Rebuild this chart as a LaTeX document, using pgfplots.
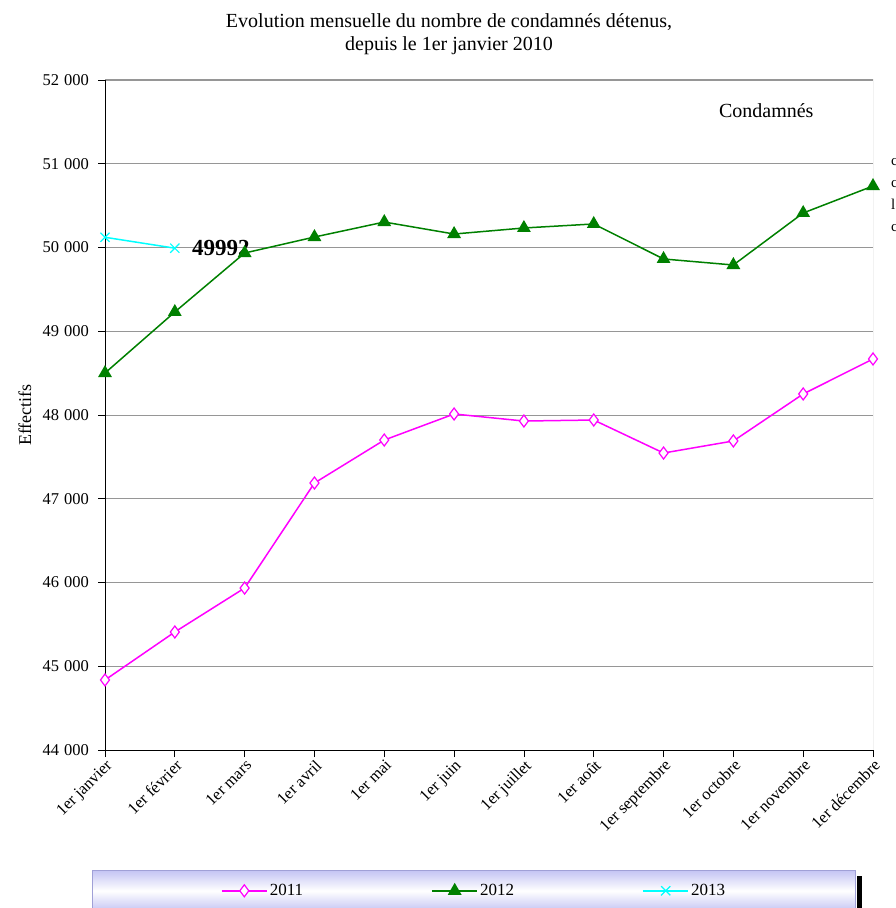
\documentclass[border=0pt]{standalone}
\usepackage{fontspec}
\setmainfont{Liberation Serif}
\usepackage{pgfplots}
\pgfplotsset{compat=1.18}
\definecolor{lav}{RGB}{196,196,244}
\definecolor{lavline}{RGB}{160,160,215}
\definecolor{dgreen}{RGB}{0,128,0}
\definecolor{mag}{RGB}{255,0,255}
\definecolor{cy}{RGB}{0,255,255}
\definecolor{gridgray}{RGB}{150,150,150}
\begin{document}
\begin{tikzpicture}
\useasboundingbox (0,0) rectangle (895pt,908pt);
\clip (0,0) rectangle (895pt,908pt);
\node[align=center, font=\fontsize{20}{23}\selectfont] at (449pt,874pt) {Evolution mensuelle du nombre de condamnés détenus,\\depuis le 1er janvier 2010};
\node[rotate=90, font=\fontsize{18}{20}\selectfont] at (25pt,493pt) {Effectifs};
\begin{axis}[
  scale only axis, width=768pt, height=670pt,
  at={(105pt,158pt)}, anchor=south west,
  xmin=0, xmax=11, ymin=44000, ymax=52000,
  axis x line*=bottom, axis y line*=left,
  axis line style={black, line width=1pt},
  xtick={0,...,11},
  xticklabels={1er janvier,1er février,1er mars,1er avril,1er mai,1er juin,1er juillet,1er août,1er septembre,1er octobre,1er novembre,1er décembre},
  ytick={44000,45000,...,52000},
  scaled y ticks=false,
  ymajorgrids, grid style={gridgray, line width=0.8pt},
  tick align=outside, major tick length=7pt, tick style={black, line width=0.8pt},
  xticklabel style={rotate=45, anchor=north east, font=\fontsize{16.5}{18}\selectfont, inner sep=1pt},
  yticklabel style={font=\fontsize{16.5}{18}\selectfont, inner sep=3pt, xshift=-6pt},
  /pgf/number format/assume math mode=true,
  /pgf/number format/1000 sep={\hspace{0.3em}},
  legend columns=3,
  legend image code/.code={\draw[mark repeat=2,mark phase=2] plot coordinates {(0cm,0cm) (0.8cm,0cm) (1.6cm,0cm)};},
  legend style={at={(0.4805,-0.1791)}, anchor=north, draw=lavline, line width=0.8pt,
    top color=lav, bottom color=lav, middle color=white,
    font=\fontsize{17}{19}\selectfont, inner xsep=128pt, inner ysep=12pt,
    /tikz/every even column/.append style={column sep=126pt}},
]
\addplot[mag, line width=1.5pt, mark=diamond*, mark size=6pt, mark options={fill=white, line width=1.2pt}] coordinates {
(0,44836) (1,45409) (2,45934) (3,47188) (4,47701) (5,48012) (6,47928) (7,47940) (8,47546) (9,47690) (10,48251) (11,48669)};
\addlegendentry{2011}
\addplot[dgreen, line width=1.5pt, mark=triangle*, mark size=6.5pt, mark options={fill=dgreen}] coordinates {
(0,48501) (1,49230) (2,49934) (3,50125) (4,50304) (5,50161) (6,50233) (7,50281) (8,49863) (9,49791) (10,50412) (11,50734)};
\addlegendentry{2012}
\addplot[cy, line width=1.5pt, mark=x, mark size=6.5pt, mark options={line width=1.2pt}] coordinates {
(0,50122) (1,49992)};
\addlegendentry{2013}
\node[anchor=west, inner sep=0pt, xshift=17pt, font=\bfseries\fontsize{23}{26}\selectfont] at (axis cs:1,49992) {49992};
\draw[gridgray, line width=1pt] (rel axis cs:0,1) -- (rel axis cs:1,1) -- (rel axis cs:1,0);
\node[font=\fontsize{20}{22}\selectfont] at (rel axis cs:0.861,0.955) {Condamnés};
\end{axis}
\fill[black] (857pt,0pt) rectangle (862pt,32pt);
\node[anchor=north west, align=left, inner sep=0pt, font=\fontsize{15}{22}\selectfont] at (891pt,750pt) {c\\c\\l\\c};
\end{tikzpicture}
\end{document}
